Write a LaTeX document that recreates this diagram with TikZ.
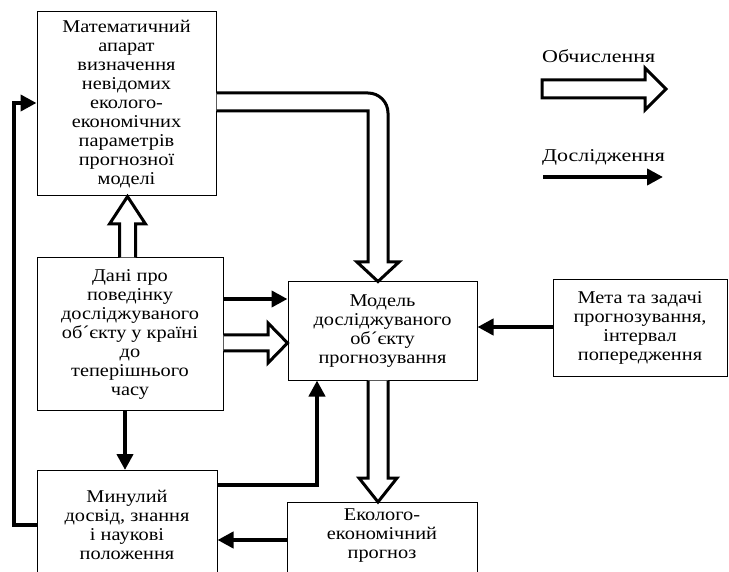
\documentclass[tikz,border=0pt]{standalone}
\usepackage{fontspec}
\setmainfont{Liberation Serif}
\newfontfamily\boxfont{Liberation Serif}[FakeStretch=1.13]
\newfontfamily\legfont{Liberation Serif}[FakeStretch=1.22]
\usetikzlibrary{arrows.meta,calc}
\tikzset{
  box/.style={draw, line width=1pt, fill=white, align=center, inner sep=0pt,
    font=\boxfont\fontsize{18}{19}\selectfont},
  txt/.style={align=center, inner sep=0pt, font=\boxfont\fontsize{18}{19}\selectfont},
  legtxt/.style={anchor=base west, inner sep=0pt, font=\legfont\fontsize{18}{20}\selectfont},
  blk/.style={line width=4.5pt, -{Triangle[length=16pt,width=16pt]}},
  hollow/.style={line width=3pt, fill=white, line join=miter},
}
\begin{document}
\begin{tikzpicture}[x=1pt,y=-1pt]
\clip (0,0) rectangle (729,572);
\fill[white] (0,0) rectangle (729,572);
% boxes
\node[box, minimum width=179, minimum height=184] (mat) at (126.5,104)
  {Математичний\\апарат\\визначення\\невідомих\\еколого-\\економічних\\параметрів\\прогнозної\\моделі};
\node[box, minimum width=186, minimum height=152] (dani) at (130,334)
  {Дані про\\поведінку\\досліджуваного\\об´єкту у країні\\до\\теперішнього\\часу};
\node[box, minimum width=189, minimum height=98] (model) at (382.5,331)
  {Модель\\досліджуваного\\об´єкту\\прогнозування};
\node[box, minimum width=174, minimum height=96] (meta) at (640,328)
  {Мета та задачі\\прогнозування,\\інтервал\\попередження};
\node[box, minimum width=180, minimum height=130, anchor=north] (mynul) at (127,470) {};
\node[txt] (mynult) at (127,525) {Минулий\\досвід, знання\\і наукові\\положення};
\node[box, minimum width=190, minimum height=100, anchor=north] (eko) at (382,502) {};
\node[txt] (ekot) at (382,536) {Еколого-\\економічний\\прогноз};
% hollow arrows
\coordinate (uptip) at (mat.south -| 127.5,0);
\draw[hollow] (dani.north -| 119.5,0) -- (119.5,224) -- (109.5,224) -- (uptip) -- (145.5,224) -- (135.5,224) -- (dani.north -| 135.5,0);
\draw[hollow] (mat.east |- 0,93) -- (368,93) arc[start angle=-90, end angle=0, radius=20] -- (388,262) -- (399,262) -- (model.north -| 378,0) -- (357,262) -- (368,262) -- (368,111) -- (mat.east |- 0,111);
\draw[hollow] (dani.east |- 0,335) -- (268,335) -- (268,323) -- (model.west |- 0,343) -- (268,363) -- (268,351) -- (dani.east |- 0,351);
\draw[hollow] (model.south -| 368,0) -- (368,478) -- (359,478) -- (eko.north -| 378,0) -- (397,478) -- (388,478) -- (model.south -| 388,0);
% black arrows
\draw[blk] (dani.east |- 0,299) -- (model.west |- 0,299);
\draw[blk] (meta.west |- 0,327) -- (model.east |- 0,327);
\draw[blk] (dani.south -| 125,0) -- (mynul.north -| 125,0);
\draw[blk] (mynul.east |- 0,485) -| (model.south -| 317,0);
\draw[blk] (eko.west |- 0,540) -- (mynul.east |- 0,540);
\draw[blk] (mynul.west |- 0,525) -- (14,525) -- (14,103) -- (mat.west |- 0,103);
% legend
\node[legtxt] (lg1) at (542,63) {Обчислення};
\draw[hollow] (542,80) -- (645,80) -- (645,68) -- (666,89) -- (645,110) -- (645,98) -- (542,98) -- cycle;
\node[legtxt] (lg2) at (542,162) {Дослідження};
\coordinate (l2a) at (543,177);
\coordinate (l2b) at (663,177);
\draw[blk] (l2a) -- (l2b);
\end{tikzpicture}
\end{document}
